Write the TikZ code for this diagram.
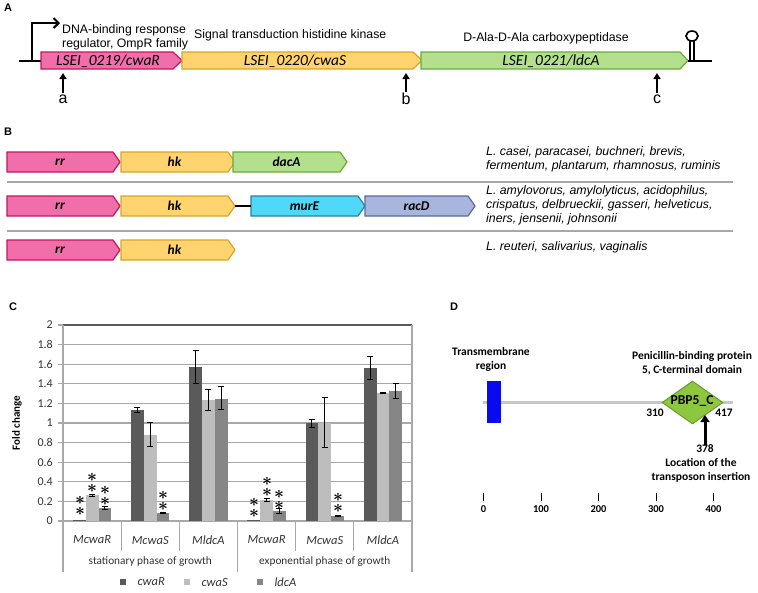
\documentclass[tikz,border=0pt]{standalone}
\usepackage{fontspec}
\setmainfont{Liberation Sans}
\newfontfamily\calibri{Carlito}
\usetikzlibrary{arrows.meta,shapes.geometric}

\definecolor{rrf}{HTML}{F06EAA}
\definecolor{rrd}{HTML}{C2185B}
\definecolor{hkf}{HTML}{FFD36E}
\definecolor{hkd}{HTML}{D9A42A}
\definecolor{daf}{HTML}{B3E08C}
\definecolor{dad}{HTML}{6AAB3A}
\definecolor{mef}{HTML}{4FD8F7}
\definecolor{med}{HTML}{2F7FA0}
\definecolor{raf}{HTML}{A8B6DE}
\definecolor{rad}{HTML}{596B9C}
\definecolor{barR}{HTML}{5A5A5A}
\definecolor{barS}{HTML}{BDBDBD}
\definecolor{barL}{HTML}{868686}
\definecolor{gridc}{HTML}{A8A8A8}
\definecolor{pbpf}{HTML}{8DC63F}
\definecolor{pbpd}{HTML}{6B9B30}

\begin{document}
\begin{tikzpicture}[x=1pt,y=-1pt,
    panel/.style={font=\fontsize{11}{13}\selectfont\bfseries,inner sep=0pt},
    gene/.style={line width=1.2pt,line join=miter},
    notes/.style={font=\fontsize{12.3}{14}\selectfont,inner sep=0pt},
    glabelA/.style={font=\calibri\fontsize{15.5}{17}\selectfont\itshape,inner sep=0pt},
    glabelB/.style={font=\calibri\fontsize{13.5}{15}\selectfont\bfseries\itshape,inner sep=0pt},
    species/.style={font=\fontsize{12.3}{14}\selectfont\itshape,align=left,anchor=west,inner sep=0pt},
    site/.style={font=\fontsize{16}{18}\selectfont,inner sep=1pt},
    uparrow/.style={line width=2pt,-{Triangle[length=6pt,width=7pt]}},
    gridline/.style={gridc,line width=1.2pt},
    ticklab/.style={font=\calibri\fontsize{12}{14}\selectfont,text=black!80,inner sep=0pt},
    catlab/.style={font=\calibri\fontsize{12.5}{14}\selectfont\itshape,text=black!80},
    errbar/.style={line width=1pt,{Bar[width=6pt]}-{Bar[width=6pt]}},
    stars/.style={font=\fontsize{17}{11.5}\selectfont\boldmath,align=center,inner sep=0pt},
    dtext/.style={font=\calibri\fontsize{11.5}{14}\selectfont\bfseries,align=center,inner sep=0pt}]
  \useasboundingbox (0,0) rectangle (758,592);

  %% panel A
  \node[panel] (pA) at (8,8) {A};
  \coordinate (dnaL) at (19,61);
  \coordinate (rrL) at (41,61);
  \draw[line width=1.5pt] (dnaL) -- (rrL);
  \coordinate (tss) at (32,61);
  \coordinate (tssTop) at (32,23);
  \coordinate (tssEnd) at (60,23);
  \draw[line width=2pt,-{Straight Barb[length=5pt,width=10pt]}] (tss) -- (tssTop) -- (tssEnd);
  \draw[gene,fill=rrf,draw=rrd] (41,52) -- (173,52) -- (182,60.5) -- (173,69) -- (41,69) -- cycle;
  \draw[gene,fill=hkf,draw=hkd] (182,52) -- (413,52) -- (422,60.5) -- (413,69) -- (182,69) -- cycle;
  \draw[gene,fill=daf,draw=dad] (421,52) -- (680,52) -- (688,60.5) -- (680,69) -- (421,69) -- cycle;
  \node[glabelA] (cwaR) at (108,61) {LSEI\_0219/cwaR};
  \node[glabelA] (cwaS) at (295,61) {LSEI\_0220/cwaS};
  \node[glabelA] (ldcA) at (551,61) {LSEI\_0221/ldcA};
  \node[notes,align=left,anchor=west] (rrnote) at (62,37) {DNA-binding response\\regulator, OmpR family};
  \node[notes,anchor=west] (hknote) at (194,35) {Signal transduction histidine kinase};
  \node[notes] (danote) at (546,38) {D-Ala-D-Ala carboxypeptidase};
  % terminator
  \coordinate (ldcAtip) at (688,61);
  \coordinate (dnaR) at (712,61);
  \draw[line width=1.5pt] (ldcAtip) -- (dnaR);
  \draw[line width=1.3pt] (690,61) -- (690,41) (694,61) -- (694,41);
  \draw[line width=1.6pt] (692,36) ellipse [x radius=6pt,y radius=5pt];
  % insertion sites
  \foreach \x/\l in {63/a,406/b,657/c}
  {
    \node[site] (site\l) at (\x,99) {\l};
    \coordinate (hit\l) at (\x,73);
    \draw[uparrow] (site\l) -- (hit\l);
  }

  %% panel B
  \node[panel] (pB) at (8,132) {B};
  \foreach \xa/\xb/\xt/\yc/\fc/\dc/\lab/\nm in {7/113/120/162/rrf/rrd/rr/rra,121/228/235/162/hkf/hkd/hk/hka,
      233/340/347/162/daf/dad/dacA/daca,7/113/120/206/rrf/rrd/rr/rrb,121/228/235/206/hkf/hkd/hk/hkb,
      251/358/365/206/mef/med/murE/mure,365/468/475/206/raf/rad/racD/racd,
      7/113/120/250/rrf/rrd/rr/rrc,121/228/235/250/hkf/hkd/hk/hkc}
  {
    \draw[gene,fill=\fc,draw=\dc] (\xa,{\yc-10}) -- (\xb,{\yc-10}) -- (\xt,\yc) -- (\xb,{\yc+10}) -- (\xa,{\yc+10}) -- cycle;
    \node[glabelB] (\nm) at ({(\xa+\xb)/2},\yc) {\lab};
  }
  \coordinate (hkbtip) at (235,206);
  \coordinate (mureL) at (251,206);
  \draw[line width=1.5pt] (hkbtip) -- (mureL);
  \draw[gridc,line width=2.2pt] (7,182) -- (733,182);
  \draw[gridc,line width=2.2pt] (7,231) -- (733,231);
  \node[species] (sp1) at (486,159) {L. casei, paracasei, buchneri, brevis,\\fermentum, plantarum, rhamnosus, ruminis};
  \node[species] (sp2) at (486,205) {L. amylovorus, amylolyticus, acidophilus,\\crispatus, delbrueckii, gasseri, helveticus,\\iners, jensenii, johnsonii};
  \node[species] (sp3) at (486,247) {L. reuteri, salivarius, vaginalis};

  %% panel C
  \node[panel] (pC) at (13,307) {C};
  \foreach \i/\lab in {0/0,1/0.2,2/0.4,3/0.6,4/0.8,5/1,6/1.2,7/1.4,8/1.6,9/1.8,10/2}
  {
    \draw[gridline] (58,{521-19.6*\i}) -- (412,{521-19.6*\i});
    \node[ticklab,anchor=east] at (53,{521-19.6*\i}) {\lab};
  }
  \draw[black!65,line width=1.3pt] (63,325) -- (412,325);
  \draw[gridline] (63,325) -- (63,572);
  \draw[gridline] (412,325) -- (412,572);
  \node[font=\calibri\fontsize{11}{13}\selectfont\bfseries,rotate=90] (ylab) at (17,423) {Fold change};
  % bars
  \foreach \k/\s/\v/\c in {0/0/0.006/barR,0/1/0.265/barS,0/2/0.13/barL,1/0/1.13/barR,1/1/0.88/barS,1/2/0.08/barL,
      2/0/1.57/barR,2/1/1.23/barS,2/2/1.25/barL,3/0/0.006/barR,3/1/0.21/barS,3/2/0.10/barL,
      4/0/1.0/barR,4/1/1.0/barS,4/2/0.05/barL,5/0/1.56/barR,5/1/1.31/barS,5/2/1.33/barL}
  {
    \pgfmathsetmacro\xl{72.9+58.17*\k+12.8*\s}
    \fill[fill=\c] (\xl,521) rectangle ({\xl+12.8},{521-98*\v});
  }
  \foreach \k/\s/\lo/\hi in {0/1/0.25/0.28,0/2/0.11/0.15,1/0/1.10/1.16,1/1/0.76/1.01,1/2/0.07/0.09,
      2/0/1.40/1.75,2/1/1.12/1.35,2/2/1.13/1.38,3/1/0.19/0.23,3/2/0.07/0.13,
      4/0/0.95/1.04,4/1/0.75/1.27,4/2/0.04/0.06,5/0/1.44/1.68,5/1/1.30/1.32,5/2/1.25/1.41}
  {
    \pgfmathsetmacro\xc{79.3+58.17*\k+12.8*\s}
    \draw[errbar] (\xc,{521-98*\lo}) -- (\xc,{521-98*\hi});
  }
  % significance
  \foreach \x/\y in {80/506,92/483,105/496,163/501,254/508,267/487,279/500,338/503}
    \node[stars] at (\x,\y) {$\ast$\\$\ast$};
  % category axis
  \foreach \k/\lab in {0/McwaR,1/McwaS,2/MldcA,3/McwaR,4/McwaS,5/MldcA}
    \node[catlab] (cat\k) at ({63+58.17*(\k+0.5)},540) {\lab};
  \foreach \k in {1,2,4,5}
    \draw[gridline] ({63+58.17*\k},521) -- ({63+58.17*\k},551);
  \draw[gridline] (237.5,521) -- (237.5,572);
  \node[catlab,font=\calibri\fontsize{11.3}{13}\selectfont] (stat) at (150.3,562) {stationary phase of growth};
  \node[catlab,font=\calibri\fontsize{11.3}{13}\selectfont] (expo) at (324.8,562) {exponential phase of growth};
  % legend
  \foreach \x/\c/\lab in {123/barR/cwaR,187/barS/cwaS,260/barL/ldcA}
  {
    \fill[fill=\c] ({\x-3},579) rectangle ({\x+3},585);
    \node[catlab,anchor=west] (leg\lab) at ({\x+11},582) {\lab};
  }

  %% panel D
  \node[panel] (pD) at (454,307) {D};
  \coordinate (protL) at (483,402);
  \coordinate (protR) at (733,402);
  \draw[black!22,line width=3pt] (protL) -- (protR);
  \fill[fill={rgb,255:red,10;green,10;blue,240}] (487,381) rectangle (501,423);
  \node[dtext] (tm) at (491,359) {Transmembrane\\region};
  \node[diamond,draw=pbpd,fill=pbpf,line width=1pt,minimum width=61pt,minimum height=43pt,inner sep=0pt] (pbp) at (692.5,402.5) {};
  \node[dtext,font=\calibri\fontsize{13.6}{15}\selectfont\bfseries] (pbplab) at (692,401) {PBP5\_C};
  \node[dtext] (pbpnote) at (692,363) {Penicillin-binding protein\\5, C-terminal domain};
  \node[dtext] (p310) at (655,413) {310};
  \node[dtext] (p417) at (724,413) {417};
  \node[dtext] (n378) at (705,449) {378};
  \node[dtext] (insnote) at (701,470) {Location of the\\transposon insertion};
  \coordinate (hit) at (705,415);
  \draw[line width=3pt,-{Triangle[length=7pt,width=9pt]}] (n378) -- (hit);
  % residue scale
  \foreach \r in {0,100,200,300,400}
  {
    \draw[line width=1pt] ({483.5+0.575*\r},493) -- ({483.5+0.575*\r},501);
    \node[dtext,font=\calibri\fontsize{10.5}{12}\selectfont\bfseries] (res\r) at ({483.5+0.575*\r},509) {\r};
  }
\end{tikzpicture}
\end{document}
